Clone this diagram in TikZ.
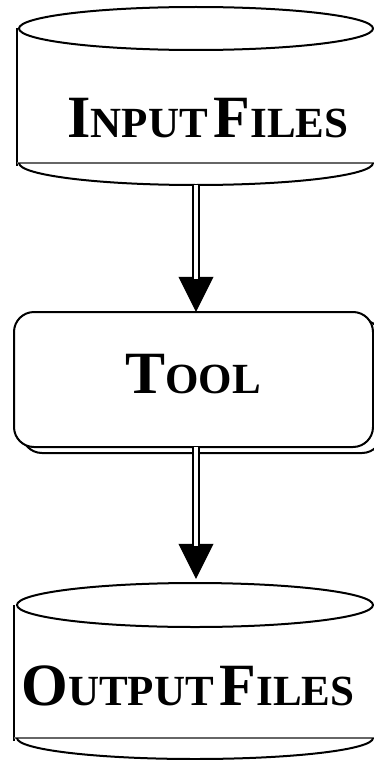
\documentclass[tikz,border=0pt]{standalone}
\usepackage{fontspec}
\setmainfont{Liberation Serif}
\usetikzlibrary{arrows.meta,calc}
\newcommand{\bigL}[1]{{\fontsize{60}{60}\selectfont\bfseries #1}}
\newcommand{\smL}[1]{{\fontsize{43}{43}\selectfont\bfseries #1}}
\begin{document}
\begin{tikzpicture}[x=1pt,y=-1pt,
  outline/.style={draw=black,line width=2pt},
  grayline/.style={draw=black!60,line width=1.6pt},
  label/.style={anchor=base,inner sep=0pt},
  tip/.style={-{Triangle[length=35pt,width=35pt]},line width=0.4pt},
  dbl/.style={draw=black,line width=2pt,double=white,double distance=4pt,shorten >=33pt}]
\useasboundingbox (0,0) rectangle (374,760);
% shape holder nodes
\node[inner sep=0pt,minimum width=357pt,minimum height=178pt] (input) at (196,96) {};
\node[inner sep=0pt,minimum width=359pt,minimum height=135pt] (tool) at (196,379.5) {};
\node[inner sep=0pt,minimum width=359pt,minimum height=177pt] (output) at (196,671.5) {};
% input cylinder
\draw[outline] (17,28) -- (17,166);
\draw[grayline] (17,163) -- (374,163);
\begin{scope}
  \clip (0,163) rectangle (374,200);
  \draw[outline] (196,163) ellipse [x radius=177, y radius=22];
\end{scope}
\draw[outline] (196,28.5) ellipse [x radius=177, y radius=21.5];
% tool box
\draw[outline,fill=white,rounded corners=20pt] (22,320) rectangle (382,453);
\draw[outline,fill=white,rounded corners=20pt] (14,312) rectangle (373,447);
% output cylinder
\draw[outline] (14,605) -- (14,741);
\draw[grayline] (14,738) -- (374,738);
\begin{scope}
  \clip (0,738) rectangle (374,770);
  \draw[outline] (195,738) ellipse [x radius=178, y radius=21];
\end{scope}
\draw[outline] (195,605) ellipse [x radius=178, y radius=22];
% labels
\node[label] (inlab) at (208,137) {\bigL{I}\smL{NPUT}\hspace{6pt}\bigL{F}\smL{ILES}};
\node[label] (toollab) at (193,393) {\bigL{T}\smL{OOL}};
\node[label] (outlab) at (188,705) {\bigL{O}\smL{UTPUT}\hspace{6pt}\bigL{F}\smL{ILES}};
% connectors
\draw[tip] (input.south) -- (tool.north);
\draw[dbl] (input.south) -- (tool.north);
\draw[tip] (tool.south) -- ($(output.north)+(0,-4)$);
\draw[dbl] (tool.south) -- ($(output.north)+(0,-4)$);
\end{tikzpicture}
\end{document}
